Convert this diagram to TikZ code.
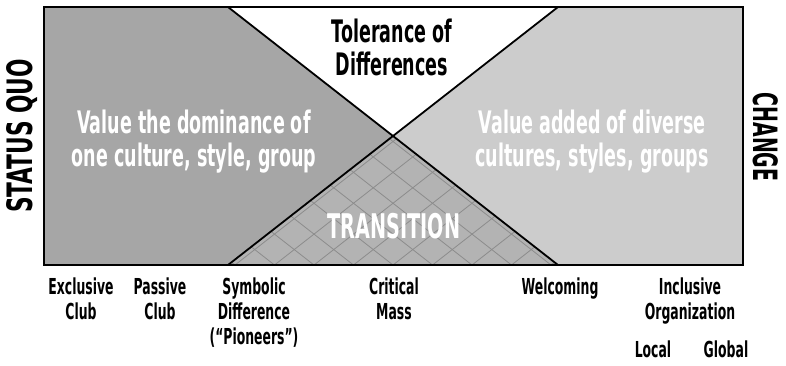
\documentclass[tikz,border=0pt]{standalone}
\usepackage{fontspec}
\setmainfont[FakeStretch=0.565]{DejaVu Sans}
\newfontfamily\widefont[FakeStretch=0.62]{DejaVu Sans}

\definecolor{quogray}{HTML}{A6A6A6}
\definecolor{changegray}{HTML}{CCCCCC}
\definecolor{transgray}{HTML}{B3B3B3}
\definecolor{hatchgray}{HTML}{8C8C8C}

\tikzset{
  region/.style={font=\bfseries\fontsize{31}{33}\selectfont,align=center,inner sep=0pt,anchor=north},
  stage/.style={font=\bfseries\fontsize{22}{25}\selectfont,align=center,inner sep=0pt,anchor=north},
  endlabel/.style={font=\bfseries\fontsize{34}{34}\selectfont,inner sep=0pt,anchor=base},
  hatch/.style={hatchgray,line width=0.8pt},
}

\begin{document}
\begin{tikzpicture}[x=1pt,y=-1pt]
  \useasboundingbox (0,0) rectangle (786,365);

  \coordinate (box nw) at (44,7);
  \coordinate (box ne) at (743,7);
  \coordinate (box se) at (743,265);
  \coordinate (box sw) at (44,265);
  \coordinate (tol l) at (228,7);
  \coordinate (tol r) at (558,7);
  \coordinate (tr l) at (228,265);
  \coordinate (tr r) at (558,265);
  \coordinate (mid) at (393,136);

  \fill [quogray] (box nw) -- (tol l) -- (mid) -- (tr l) -- (box sw) -- cycle;
  \fill [changegray] (tol r) -- (box ne) -- (box se) -- (tr r) -- (mid) -- cycle;
  \begin{scope}
    \clip (mid) -- (tr r) -- (tr l) -- cycle;
    \fill [transgray] (tr l) rectangle (tr r |- mid);
    \foreach \k in {-5,...,5} {
      \draw [hatch] (393+\k*39.5,265) -- ++(165,-129);
      \draw [hatch] (393+\k*39.5,265) -- ++(-165,-129);
    }
  \end{scope}

  \draw [line width=1.8pt] (tol l) -- (tr r);
  \draw [line width=1.8pt] (tol r) -- (tr l);
  \draw [line width=2pt] (box sw) rectangle (box ne);

  \node [region] (tolerance) at (392,19) {Tolerance of\\Differences};
  \node [region,text=white] (dominance) at (194,110) {Value the dominance of\\one culture, style, group};
  \node [region,text=white] (diverse) at (592,110) {Value added of diverse\\cultures, styles, groups};
  \node [region,anchor=base,text=white,font=\bfseries\fontsize{34}{34}\selectfont] (transition) at (394,238) {TRANSITION};

  \node [endlabel,rotate=90,font=\widefont\bfseries\fontsize{35}{35}\selectfont] (status quo) at (32,136) {STATUS QUO};
  \node [endlabel,rotate=-90,font=\bfseries\fontsize{33.5}{34}\selectfont] (change) at (753,137) {CHANGE};

  \node [stage] (exclusive) at (81,278) {Exclusive\\Club};
  \node [stage] (passive) at (160,278) {Passive\\Club};
  \node [stage] (symbolic) at (254,278) {Symbolic\\Difference\\(“Pioneers”)};
  \node [stage] (critical) at (394,278) {Critical\\Mass};
  \node [stage] (welcoming) at (560,278) {Welcoming};
  \node [stage] (inclusive) at (690,278) {Inclusive\\Organization};
  \node [stage,anchor=base] (local) at (653,357) {Local};
  \node [stage,anchor=base] (global) at (726,357) {Global};

\end{tikzpicture}
\end{document}
